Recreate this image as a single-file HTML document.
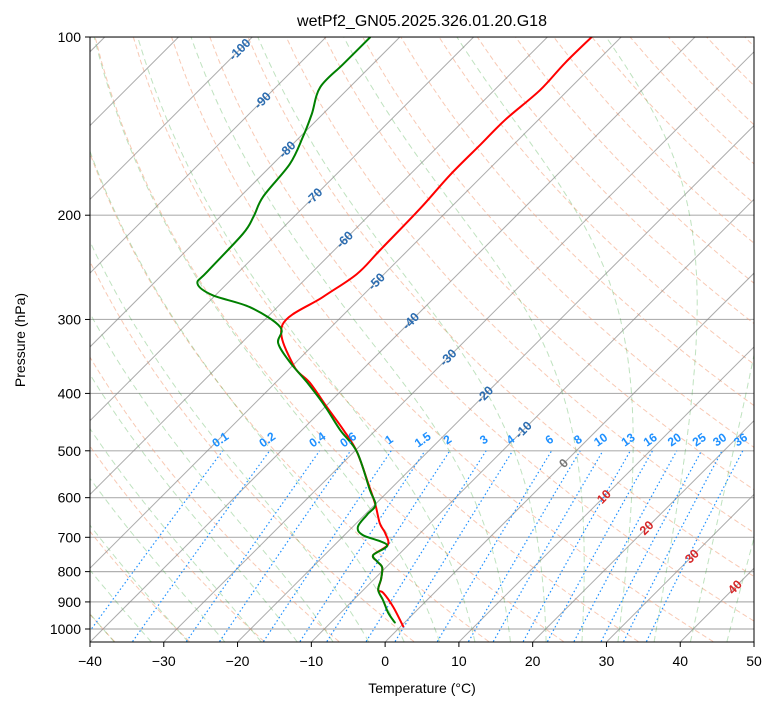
<!DOCTYPE html>
<html><head><meta charset="utf-8"><style>
body{margin:0;background:#fff;}
svg{font-family:"Liberation Sans","DejaVu Sans",sans-serif;display:block;}
</style></head><body>
<svg id="chart" width="775" height="708" viewBox="0 0 775 708" xmlns="http://www.w3.org/2000/svg">
<defs><clipPath id="clip"><rect x="90" y="37" width="664" height="605"/></clipPath></defs>
<rect x="0" y="0" width="775" height="708" fill="#fff"/>
<text x="422" y="26" font-size="16" text-anchor="middle">wetPf2_GN05.2025.326.01.20.G18</text>
<g id="bg" clip-path="url(#clip)"></g>
<g id="fg" clip-path="url(#clip)"></g>
<g id="labels"></g>
<rect x="90" y="37" width="664" height="605" fill="none" stroke="#000" stroke-width="1"/>
<g id="axes"></g>
<text x="422" y="693" font-size="14" text-anchor="middle">Temperature (°C)</text>
<text x="25" y="340" font-size="14" text-anchor="middle" transform="rotate(-90 25 340)">Pressure (hPa)</text>
</svg>
<script>
const tempTicks=[-40,-30,-20,-10,0,10,20,30,40,50];
const pressTicks=[1000,900,800,700,600,500,400,300,200,100];
const isoLabelT=[-100,-90,-80,-70,-60,-50,-40,-30,-20,-10,0,10,20,30,40];
const isoLabelP=[105,128,155,186,220,259,302,348,402,461,525,598,675,754,850];
const mixRatios=[0.1,0.2,0.4,0.6,1,1.5,2,3,4,6,8,10,13,16,20,25,30,36];
const tempP=[993,917,869,859,823,787,770,750,721,688,663,617,576,502,461,422,384,358,306.6,275,251.5,229,195,171,152,138,123,110.6,100];
const tempT=[0.5,-3.7,-6.9,-8,-9.1,-10.5,-11.9,-13.4,-12.8,-14.8,-16.8,-19.9,-23.1,-29.6,-34.4,-39.7,-45.3,-50.0,-56.9,-55.2,-53.7,-53.8,-54,-54.5,-54.5,-54.5,-53.8,-54.1,-54];
const dewP=[977,966,936,893,859,823,787,770,750,721,694,672,641,617,582,502,461,419,383,355,329,309,286,273,261,249.5,215,201,186,164,147.5,134.9,121.5,111,100];
const dewT=[-1.2,-1.9,-3.7,-6,-8,-9.1,-10.5,-11.9,-13.4,-12.9,-17.5,-19.3,-19.7,-19.9,-22.7,-29.6,-34.85,-40.3,-45.8,-50.7,-55,-56.9,-63.7,-70.4,-74,-74.3,-74.6,-75.5,-76.9,-77.7,-79.6,-81.5,-84,-84,-84];

const NS='http://www.w3.org/2000/svg';
function yOf(p){return 37+592*Math.log10(p/100);}
function xOf(T,p){return 90+(T+40)*7.378+(642-yOf(p));}
function mk(tag,attrs,parent){const e=document.createElementNS(NS,tag);for(const k in attrs)e.setAttribute(k,attrs[k]);parent.appendChild(e);return e;}
function pts(arr){return arr.map(a=>a[0].toFixed(1)+','+a[1].toFixed(1)).join(' ');}
const bg=document.getElementById('bg'),fg=document.getElementById('fg'),lab=document.getElementById('labels'),ax=document.getElementById('axes');

pressTicks.forEach(p=>{
 const l=mk('line',{x1:90,x2:754,y1:yOf(p),y2:yOf(p),stroke:'#b0b0b0','stroke-width':1.2},bg);
 
 
});
for(let t0=-60;t0<=200;t0+=10){
 const a=[];for(let p=1050;p>=100;p-=10){a.push([xOf((t0+273.15)*Math.pow(p/1000,0.2857)-273.15,p),yOf(p)]);}
 const l=mk('polyline',{points:pts(a),fill:'none',stroke:'#f4a582','stroke-opacity':0.6,'stroke-width':1,'stroke-dasharray':'5,3'},bg);
 
 
}
function dTdp(T,p){const Rd=287.04,Cp=1005.7,Lv=2.501e6,eps=0.622;const es=6.112*Math.exp(17.67*(T-273.15)/(T-29.65));const rs=eps*es/(p-es);return ((Rd*T+Lv*rs)/p)/(Cp+(Lv*Lv*rs*eps)/(Rd*T*T));}
for(let t0=-40;t0<=60;t0+=5){
 const up=[];let T=t0+273.15;for(let p=1000;p>=100;p-=2){up.push([xOf(T-273.15,p),yOf(p)]);const k1=dTdp(T,p),k2=dTdp(T-k1,p-2);T+=-2*(k1+k2)/2;}
 let T2=t0+273.15;const dn=[];for(let p=1000;p<=1052;p+=2){dn.unshift([xOf(T2-273.15,p),yOf(p)]);T2+=2*dTdp(T2,p);}
 const a=dn.concat(up.slice(1));
 const l=mk('polyline',{points:pts(a),fill:'none',stroke:'#2ca02c','stroke-opacity':0.3,'stroke-width':1,'stroke-dasharray':'6,4'},bg);
 
 
}
for(let t=-160;t<=50;t+=10){
 const l=mk('line',{x1:xOf(t,1050),y1:yOf(1050),x2:xOf(t,100),y2:yOf(100),stroke:'#888','stroke-opacity':0.7,'stroke-width':1},bg);
 
 
}
function tdFromW(w,p){const e=w*1e-3*p/(0.622+w*1e-3);const L=Math.log(e/6.112);return 243.5*L/(17.67-L);}
mixRatios.forEach(w=>{
 const a=[];for(let p=1050;p>=500;p-=10)a.push([xOf(tdFromW(w,p),p),yOf(p)]);
 const l=mk('polyline',{points:pts(a),fill:'none',stroke:'#1e90ff','stroke-width':1.2,'stroke-dasharray':'1.5,2.5'},bg);
 
 
 const x=xOf(tdFromW(w,500),500),y=443;
 const t=mk('text',{x:x,y:y,'font-size':12,'font-weight':'bold',fill:'#1e90ff','text-anchor':'middle',transform:`rotate(-35 ${x} ${y})`},lab);
 t.textContent=String(w);
 
 
});
isoLabelT.forEach((T,i)=>{
 const p=isoLabelP[i];const x=xOf(T,p),y=yOf(p);
 const col=T<0?'#2b6cb0':(T===0?'#777':'#d62728');
 const t=mk('text',{x:x,y:y+4,'font-size':12.5,'font-weight':'bold',fill:col,'text-anchor':'middle',transform:`rotate(-45 ${x} ${y})`},lab);
 t.textContent=String(T);
 
 
});
function smooth(P,T){const a=P.map((p,i)=>[xOf(T[i],p),yOf(p)]);let d='M'+a[0][0]+','+a[0][1];
 for(let i=0;i<a.length-1;i++){const p0=a[i-1]||a[i],p1=a[i],p2=a[i+1],p3=a[i+2]||a[i+1];
  const c1=[p1[0]+(p2[0]-p0[0])/6,p1[1]+(p2[1]-p0[1])/6],c2=[p2[0]-(p3[0]-p1[0])/6,p2[1]-(p3[1]-p1[1])/6];
  d+=` C${c1[0].toFixed(1)},${c1[1].toFixed(1)} ${c2[0].toFixed(1)},${c2[1].toFixed(1)} ${p2[0].toFixed(1)},${p2[1].toFixed(1)}`;}
 return d;}
const tl=mk('path',{d:smooth(tempP,tempT),fill:'none',stroke:'#ff0000','stroke-width':2,'stroke-linejoin':'round'},fg);


const dl=mk('path',{d:smooth(dewP,dewT),fill:'none',stroke:'#008000','stroke-width':2,'stroke-linejoin':'round'},fg);


tempTicks.forEach(T=>{
 const x=90+(T+40)*7.378;
 const l=mk('line',{x1:x,x2:x,y1:642,y2:647,stroke:'#000'},ax);
 
 
 const t=mk('text',{x:x,y:666,'font-size':14,'text-anchor':'middle'},ax);
 t.textContent=(T<0?'\u2212'+(-T):String(T));
 
 
});
pressTicks.forEach(p=>{
 const y=yOf(p);
 const l=mk('line',{x1:85,x2:90,y1:y,y2:y,stroke:'#000'},ax);
 
 
 const t=mk('text',{x:81,y:y+5,'font-size':14,'text-anchor':'end'},ax);
 t.textContent=String(p);
 
 
});
</script>
</body></html>
